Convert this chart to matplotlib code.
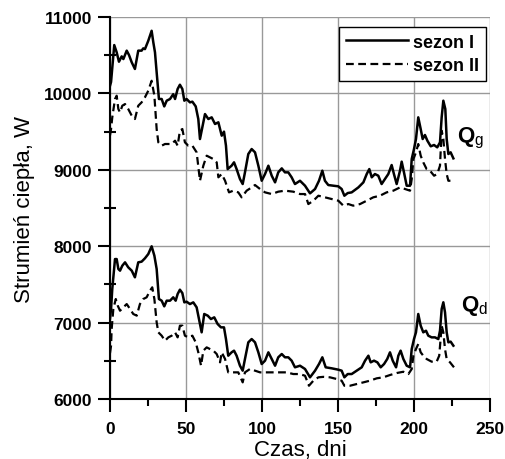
import matplotlib
matplotlib.use("Agg")
import matplotlib.pyplot as plt
from matplotlib.ticker import MultipleLocator

plt.rcParams['font.family'] = ['Liberation Sans', 'DejaVu Sans']
plt.rcParams['mathtext.fontset'] = 'custom'
plt.rcParams['mathtext.rm'] = 'Liberation Sans'
plt.rcParams['mathtext.bf'] = 'Liberation Sans:bold'

# Qg, sezon I
qg1_day = [0, 0.7, 2.8, 4.4, 5.9, 7.7, 8.8, 11, 12.5, 14.3, 16.4, 18.6, 20.8, 21.9, 23, 25.2,
           27.4, 28.5, 29.6, 30.7, 32.2, 34, 35.7, 37.3, 39.5, 41.6, 42.8, 44.5, 46, 47.6,
           48.9, 50.4, 52.6, 54.2, 56.4, 58.1, 59.2, 62.5, 64.7, 66.9, 69.1, 71.3, 73.5, 75,
           76.3, 77.4, 80, 81.6, 83.3, 85.5, 87.3, 88.8, 91, 93.2, 95.4, 97.6, 99.8, 102,
           104.2, 106.4, 108.6, 110.7, 113, 115.1, 117.3, 119.5, 121.7, 125, 128.3, 131.6,
           134.9, 137.5, 139.7, 141.4, 143.6, 147, 150.2, 152.4, 154.2, 156.4, 159, 163.4,
           166.7, 168.9, 170.6, 172.2, 174.3, 176.5, 178.7, 180.9, 183.1, 185.3, 186.8,
           188.6, 190.8, 191.9, 193.4, 195.2, 197.4, 198.5, 200, 201.3, 202.8, 204.4, 205.7,
           207.2, 208.8, 211, 213.2, 215.3, 217.1, 218.2, 219.3, 220.6, 221.5, 222.6, 224.1,
           225.9]
qg1_val = [10100, 10150, 10633, 10538, 10415, 10485, 10450, 10560, 10503, 10407, 10320, 10560,
           10560, 10590, 10580, 10690, 10820, 10669, 10538, 10276, 9927, 9927, 9830, 9905,
           9927, 9990, 9927, 10058, 10114, 10058, 9905, 9927, 9883, 9892, 9830, 9665, 9403,
           9730, 9665, 9687, 9600, 9622, 9447, 9500, 9316, 9010, 9054, 9098, 9010, 8880, 8814,
           8967, 9207, 9272, 9229, 9054, 8857, 8945, 9054, 8923, 8836, 8967, 9019, 8967, 8967,
           8902, 8814, 8857, 8792, 8692, 8749, 8857, 8989, 8857, 8801, 8792, 8784, 8749, 8661,
           8696, 8705, 8770, 8836, 8945, 9010, 8902, 8945, 8923, 8814, 8880, 8945, 9063, 8945,
           8814, 8989, 9107, 8967, 8792, 8792, 9141, 9272, 9403, 9687, 9534, 9403, 9456, 9381,
           9308, 9325, 9294, 9360, 9687, 9905, 9796, 9403, 9207, 9229, 9150]

# Qg, sezon II
qg2_day = [0, 0.7, 1.5, 3.3, 4.4, 5.5, 6.6, 8.1, 9.9, 12, 14.3, 16.4, 18.6, 20.8, 23, 25.2,
           27.4, 29.2, 30.7, 31.8, 34, 36.2, 38.4, 40.6, 42.8, 44.5, 46, 47.6, 49.3, 51.5,
           54.2, 57, 59.2, 61.4, 63.6, 65.8, 68, 70.2, 71.3, 73.5, 75.7, 78.3, 81.1, 84.4,
           86.6, 89.9, 93.2, 95.4, 98.7, 102, 106.4, 110.7, 115.1, 120.6, 125, 128.3, 130.5,
           133.8, 137.1, 141.4, 145.8, 150.2, 153.5, 156.8, 160, 164.5, 168.9, 173.2, 177.6,
           182, 186.4, 190.8, 194.1, 197.4, 198.5, 199.6, 201.3, 202.8, 204.4, 206.1, 208.3,
           210.5, 213.2, 215.3, 217.1, 218.2, 219.3, 220.4, 221.5, 222.6, 224.8]
qg2_val = [9450, 9534, 9687, 9927, 9970, 9796, 9752, 9839, 9861, 9796, 9709, 9665, 9839, 9883,
           9949, 10036, 10166, 9970, 9534, 9360, 9316, 9338, 9338, 9338, 9381, 9316, 9512,
           9534, 9360, 9316, 9316, 9229, 8857, 9054, 9185, 9163, 9141, 9098, 8902, 8945, 8857,
           8705, 8727, 8705, 8640, 8727, 8770, 8801, 8749, 8705, 8683, 8714, 8727, 8714, 8683,
           8683, 8552, 8596, 8661, 8640, 8618, 8596, 8531, 8552, 8531, 8552, 8596, 8640, 8661,
           8705, 8727, 8770, 8749, 8727, 8880, 9141, 9229, 9338, 9185, 9098, 9010, 8989, 8923,
           8945, 9054, 9512, 9403, 9141, 8945, 8857, 8857]

# Qd, sezon I
qd1_day = [0, 0.7, 1.5, 3.3, 4.4, 5.5, 6.6, 8.1, 9.9, 12, 14.3, 16.4, 18.6, 20.8, 23, 25.2,
           27.4, 29.2, 30.7, 32.2, 34, 35.7, 37.3, 39.5, 41.6, 43.2, 44.5, 46, 47.6, 48.9,
           50.4, 52.6, 54.8, 57, 59.2, 60.3, 62, 64.3, 66.4, 68.6, 70.8, 73, 75, 76.3, 77.8,
           80, 81.6, 83.3, 85.5, 87.3, 88.8, 91, 93.2, 95.4, 97.6, 99.8, 102, 104.2, 106.4,
           108.6, 110.7, 113, 115.1, 117.3, 119.5, 121.7, 125, 128.3, 131.6, 134.9, 137.5,
           139.7, 141.9, 145.8, 150.2, 152.4, 154.2, 156.4, 159, 162.3, 165.6, 167.8, 170,
           171.5, 173.7, 175.9, 178.1, 180.3, 182.4, 184.2, 186, 188.2, 189.7, 191.2, 193,
           195.2, 197.4, 198.5, 200, 201.3, 202.8, 204.4, 206.1, 207.9, 209.4, 211.6, 213.8,
           216, 217.1, 218.2, 219.3, 220.4, 221.5, 222.6, 224.1, 225.9]
qd1_val = [7050, 7178, 7440, 7832, 7832, 7702, 7680, 7745, 7789, 7724, 7680, 7593, 7789, 7798,
           7842, 7898, 7999, 7876, 7702, 7309, 7287, 7213, 7287, 7287, 7331, 7287, 7374, 7431,
           7387, 7265, 7274, 7243, 7265, 7200, 6982, 6873, 7113, 7091, 7047, 7069, 6982, 6938,
           6938, 6785, 6567, 6611, 6633, 6567, 6436, 6371, 6524, 6742, 6785, 6742, 6611, 6458,
           6502, 6611, 6524, 6436, 6546, 6589, 6546, 6546, 6502, 6415, 6436, 6393, 6284, 6371,
           6458, 6546, 6415, 6402, 6384, 6371, 6284, 6327, 6327, 6371, 6415, 6502, 6567, 6480,
           6502, 6480, 6415, 6458, 6524, 6611, 6502, 6415, 6567, 6633, 6524, 6436, 6415, 6654,
           6785, 6873, 7113, 6960, 6873, 6894, 6829, 6807, 6807, 6785, 6894, 7178, 7266, 7135,
           6873, 6742, 6751, 6698]

# Qd, sezon II
qd2_day = [0, 0.7, 1.1, 2.2, 3.8, 5.1, 6.6, 8.8, 11, 13.2, 15.3, 17.6, 19.7, 21.9, 24.1, 26.3,
           27.8, 29.2, 30.7, 31.8, 34, 36.2, 38.4, 40.6, 42.8, 44.5, 46, 47.6, 49.3, 51.5,
           54.2, 56.4, 58.1, 59.9, 61.4, 63.6, 65.8, 68, 70.2, 72.4, 73.5, 75.7, 77.8, 81.1,
           84.4, 87.3, 88.8, 92.1, 95.4, 98.7, 103.1, 107.5, 111.8, 116.2, 120.6, 124.6,
           128.3, 130.9, 133.8, 137.1, 140.4, 144.7, 149.1, 152.4, 154.2, 157.9, 162.3, 166.7,
           171, 175.5, 179.8, 184.2, 188.6, 193, 196.3, 198.5, 199.6, 201.3, 202.8, 204.4,
           206.1, 208.3, 211.6, 214.9, 216.6, 218.2, 219.3, 220.4, 221.5, 223.7, 226.3]
qd2_val = [6600, 6698, 6916, 7178, 7309, 7222, 7156, 7200, 7243, 7178, 7113, 7091, 7243, 7309,
           7331, 7418, 7462, 7309, 7004, 6873, 6829, 6763, 6807, 6829, 6873, 6807, 6960, 6960,
           6829, 6807, 6829, 6742, 6611, 6436, 6633, 6676, 6654, 6633, 6589, 6480, 6611, 6524,
           6349, 6349, 6349, 6218, 6349, 6393, 6371, 6349, 6349, 6349, 6349, 6349, 6327, 6327,
           6305, 6174, 6240, 6284, 6290, 6284, 6262, 6240, 6174, 6174, 6196, 6218, 6240, 6271,
           6284, 6314, 6340, 6357, 6327, 6393, 6567, 6654, 6720, 6611, 6567, 6524, 6489, 6489,
           6567, 6960, 6873, 6654, 6524, 6480, 6415]

fig = plt.figure(figsize=(5.05, 4.6), dpi=100)
ax = fig.add_axes([0.2178, 0.1304, 0.7525, 0.8304])

solid = dict(color='black', lw=1.8, ls='-')
dashed = dict(color='black', lw=1.6, ls=(0, (3.5, 2)))
ax.plot(qg1_day, qg1_val, label='sezon I', **solid)
ax.plot(qg2_day, qg2_val, label='sezon II', **dashed)
ax.plot(qd1_day, qd1_val, **solid)
ax.plot(qd2_day, qd2_val, **dashed)

ax.set_xlim(0, 250)
ax.set_ylim(6000, 11000)
ax.xaxis.set_major_locator(MultipleLocator(50))
ax.xaxis.set_minor_locator(MultipleLocator(25))
ax.yaxis.set_major_locator(MultipleLocator(1000))
ax.yaxis.set_minor_locator(MultipleLocator(500))
ax.grid(True, which='major', color='#999999', lw=1.0)
ax.set_axisbelow(True)

for s in ['top', 'right']:
    ax.spines[s].set_visible(False)
for s in ['left', 'bottom']:
    ax.spines[s].set_linewidth(1.5)

ax.tick_params(which='major', direction='out', length=9, width=1.5, labelsize=12.5)
ax.tick_params(axis='x', which='major', pad=7)
ax.tick_params(axis='y', which='major', pad=4)
ax.tick_params(axis='x', which='minor', direction='out', length=5, width=1.5)
ax.tick_params(axis='y', which='minor', direction='inout', length=9, width=1.5)
for lab in ax.get_xticklabels() + ax.get_yticklabels():
    lab.set_fontweight('bold')

ax.set_xlabel('Czas, dni', fontsize=16, labelpad=2)
ax.set_ylabel('Strumień ciepła, W', fontsize=16, labelpad=6)

ax.text(228, 9430, r'$\mathbf{Q}_{\mathrm{g}}$', fontsize=16, va='center', ha='left')
ax.text(231, 7230, r'$\mathbf{Q}_{\mathrm{d}}$', fontsize=16, va='center', ha='left')

leg = ax.legend(loc='upper right', bbox_to_anchor=(0.99, 0.975), fancybox=False,
                edgecolor='black', framealpha=1, handlelength=3.4,
                prop={'weight': 'bold', 'size': 13}, borderpad=0.4, labelspacing=0.35,
                handletextpad=0.3, borderaxespad=0)
leg.get_frame().set_linewidth(1.0)

fig.savefig('out.png', dpi=100)
